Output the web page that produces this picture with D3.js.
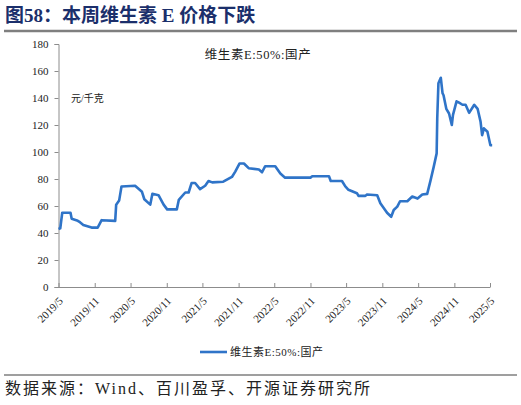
<!DOCTYPE html>
<html>
<head>
<meta charset="utf-8">
<script src="https://cdn.jsdelivr.net/npm/d3@7"></script>
<style>
  body { margin: 0; background: #fff; }
  svg { display: block; }
  .serif { font-family: "Liberation Serif", "Noto Sans CJK SC", serif; }
</style>
</head>
<body>
<svg width="521" height="405"></svg>
<script>
"use strict";

// series: 维生素E:50%:国产, 元/千克
const dates = [
  "2019-05-01", "2019-05-10", "2019-05-20", "2019-07-01", "2019-07-07", "2019-08-07",
  "2019-08-18", "2019-09-04", "2019-10-16", "2019-11-16", "2019-12-06", "2020-02-13",
  "2020-02-18", "2020-03-04", "2020-03-16", "2020-05-24", "2020-06-28", "2020-07-10",
  "2020-08-09", "2020-08-20", "2020-09-20", "2020-10-16", "2020-11-03", "2020-12-22",
  "2021-01-01", "2021-02-03", "2021-02-20", "2021-03-07", "2021-03-25", "2021-04-19",
  "2021-05-15", "2021-06-01", "2021-06-20", "2021-08-15", "2021-09-28", "2021-10-15",
  "2021-11-06", "2021-11-28", "2021-12-22", "2022-02-12", "2022-02-28", "2022-03-16",
  "2022-05-06", "2022-06-01", "2022-06-25", "2022-11-01", "2022-11-10", "2023-02-03",
  "2023-02-12", "2023-04-10", "2023-04-27", "2023-05-13", "2023-06-25", "2023-07-03",
  "2023-08-07", "2023-08-15", "2023-10-06", "2023-10-22", "2023-11-08", "2023-11-25",
  "2023-12-16", "2023-12-29", "2024-01-16", "2024-01-30", "2024-03-07", "2024-04-01",
  "2024-04-28", "2024-05-22", "2024-06-16", "2024-07-03", "2024-07-19", "2024-08-03",
  "2024-08-06", "2024-08-12", "2024-08-24", "2024-09-02", "2024-09-07", "2024-09-21",
  "2024-10-05", "2024-10-19", "2024-10-25", "2024-11-12", "2024-11-25", "2024-12-12",
  "2024-12-28", "2025-01-15", "2025-02-10", "2025-02-27", "2025-03-14", "2025-03-22",
  "2025-03-31", "2025-04-18", "2025-05-03", "2025-05-12"
];
const prices = [
  43, 43.5, 55, 55, 50.5, 49,
  48, 46, 44, 44, 49.5, 49,
  61, 64, 74.5, 75, 70.5, 65,
  61, 69, 68, 61, 57.5, 57.5,
  64.5, 70, 70, 77, 77, 72.5,
  75, 78.5, 77.5, 78, 81.5, 85.5,
  91.5, 91.5, 88, 87, 85, 89.5,
  89.5, 84, 81, 81, 82, 82,
  78.5, 78.5, 74.5, 72, 69.5, 67.5,
  67.5, 68.5, 68, 62, 58.5, 55,
  52, 57, 59.5, 63.5, 63.5, 67,
  65.5, 68.5, 69, 79, 89, 99,
  125, 151, 155, 143.5, 142, 132,
  128.5, 120, 127.5, 137.5, 136.5, 135,
  135, 129, 135, 132, 122.5, 112.5,
  117.5, 115, 105, 105
];
const yTicks = [0, 20, 40, 60, 80, 100, 120, 140, 160, 180];
const xTickLabels = [
  "2019/5", "2019/11", "2020/5", "2020/11", "2021/5", "2021/11", "2022/5",
  "2022/11", "2023/5", "2023/11", "2024/5", "2024/11", "2025/5"
];
const seriesName = "维生素E:50%:国产";

const parseDay = d3.timeParse("%Y-%m-%d");
const parseTick = d3.timeParse("%Y/%m");
const data = dates.map((d, i) => ({ date: parseDay(d), value: prices[i] }));
const tickDates = xTickLabels.map(parseTick);

const svg = d3.select("svg");

// title
svg.append("text")
  .attr("x", 5)
  .attr("y", 22)
  .attr("fill", "#1b2f6b")
  .style("font-family", "\"Liberation Serif\", \"Noto Sans CJK SC\", serif")
  .style("font-size", "19px")
  .style("font-weight", "bold")
  .text("图58：本周维生素 E 价格下跌");

svg.append("line")
  .attr("x1", 4).attr("x2", 517)
  .attr("y1", 31).attr("y2", 31)
  .attr("stroke", "#7f7f7f")
  .attr("stroke-width", 2.5);

const xScale = d3.scaleTime()
  .domain([tickDates[0], tickDates[tickDates.length - 1]])
  .range([58.5, 490]);

const yScale = d3.scaleLinear()
  .domain([0, 180])
  .range([287, 44]);

// y axis
const yAxis = svg.append("g")
  .attr("transform", "translate(58.5,0)")
  .call(d3.axisLeft(yScale).tickValues(yTicks).tickSize(4).tickPadding(6));
yAxis.select(".domain").attr("stroke", "#8c8c8c");
yAxis.selectAll(".tick line").attr("stroke", "#8c8c8c");
yAxis.selectAll("text")
  .attr("class", "serif")
  .attr("fill", "#222")
  .style("font-size", "11px");

// x axis, ticks pointing inward
const xAxis = svg.append("g")
  .attr("transform", "translate(0,287)")
  .call(d3.axisBottom(xScale)
    .tickValues(tickDates)
    .tickSizeInner(-4)
    .tickSizeOuter(0)
    .tickFormat((d, i) => xTickLabels[i]));
xAxis.select(".domain").attr("stroke", "#8c8c8c");
xAxis.selectAll(".tick line").attr("stroke", "#8c8c8c");
xAxis.selectAll("text")
  .attr("class", "serif")
  .attr("fill", "#222")
  .style("font-size", "11px")
  .attr("text-anchor", "end")
  .attr("x", 0)
  .attr("y", 0)
  .attr("dy", "0.35em")
  .attr("transform", "translate(2,12) rotate(-45)");

// price line
const line = d3.line()
  .x(d => xScale(d.date))
  .y(d => yScale(d.value));

svg.append("path")
  .datum(data)
  .attr("fill", "none")
  .attr("stroke", "#2f74c8")
  .attr("stroke-width", 2.6)
  .attr("stroke-linejoin", "round")
  .attr("d", line);

// labels inside the plot
svg.append("text")
  .attr("class", "serif")
  .attr("x", 258)
  .attr("y", 59)
  .attr("text-anchor", "middle")
  .attr("fill", "#222")
  .style("font-size", "12.5px")
  .style("letter-spacing", "0.6px")
  .text(seriesName);

svg.append("text")
  .attr("class", "serif")
  .attr("x", 71)
  .attr("y", 102)
  .attr("fill", "#222")
  .style("font-size", "10px")
  .text("元/千克");

// legend
const legend = svg.append("g").attr("transform", "translate(200,352)");
legend.append("line")
  .attr("x1", 0).attr("x2", 27)
  .attr("stroke", "#2f74c8")
  .attr("stroke-width", 2.6);
legend.append("text")
  .attr("class", "serif")
  .attr("x", 30)
  .attr("y", 4)
  .attr("fill", "#222")
  .style("font-size", "11px")
  .style("letter-spacing", "0.5px")
  .text(seriesName);

// source
svg.append("line")
  .attr("x1", 4).attr("x2", 517)
  .attr("y1", 375).attr("y2", 375)
  .attr("stroke", "#7f7f7f")
  .attr("stroke-width", 1.5);

svg.append("text")
  .attr("class", "serif")
  .attr("x", 5)
  .attr("y", 394)
  .attr("fill", "#222")
  .style("font-size", "16px")
  .style("letter-spacing", "2px")
  .text("数据来源：Wind、百川盈孚、开源证券研究所");
</script>
</body>
</html>
